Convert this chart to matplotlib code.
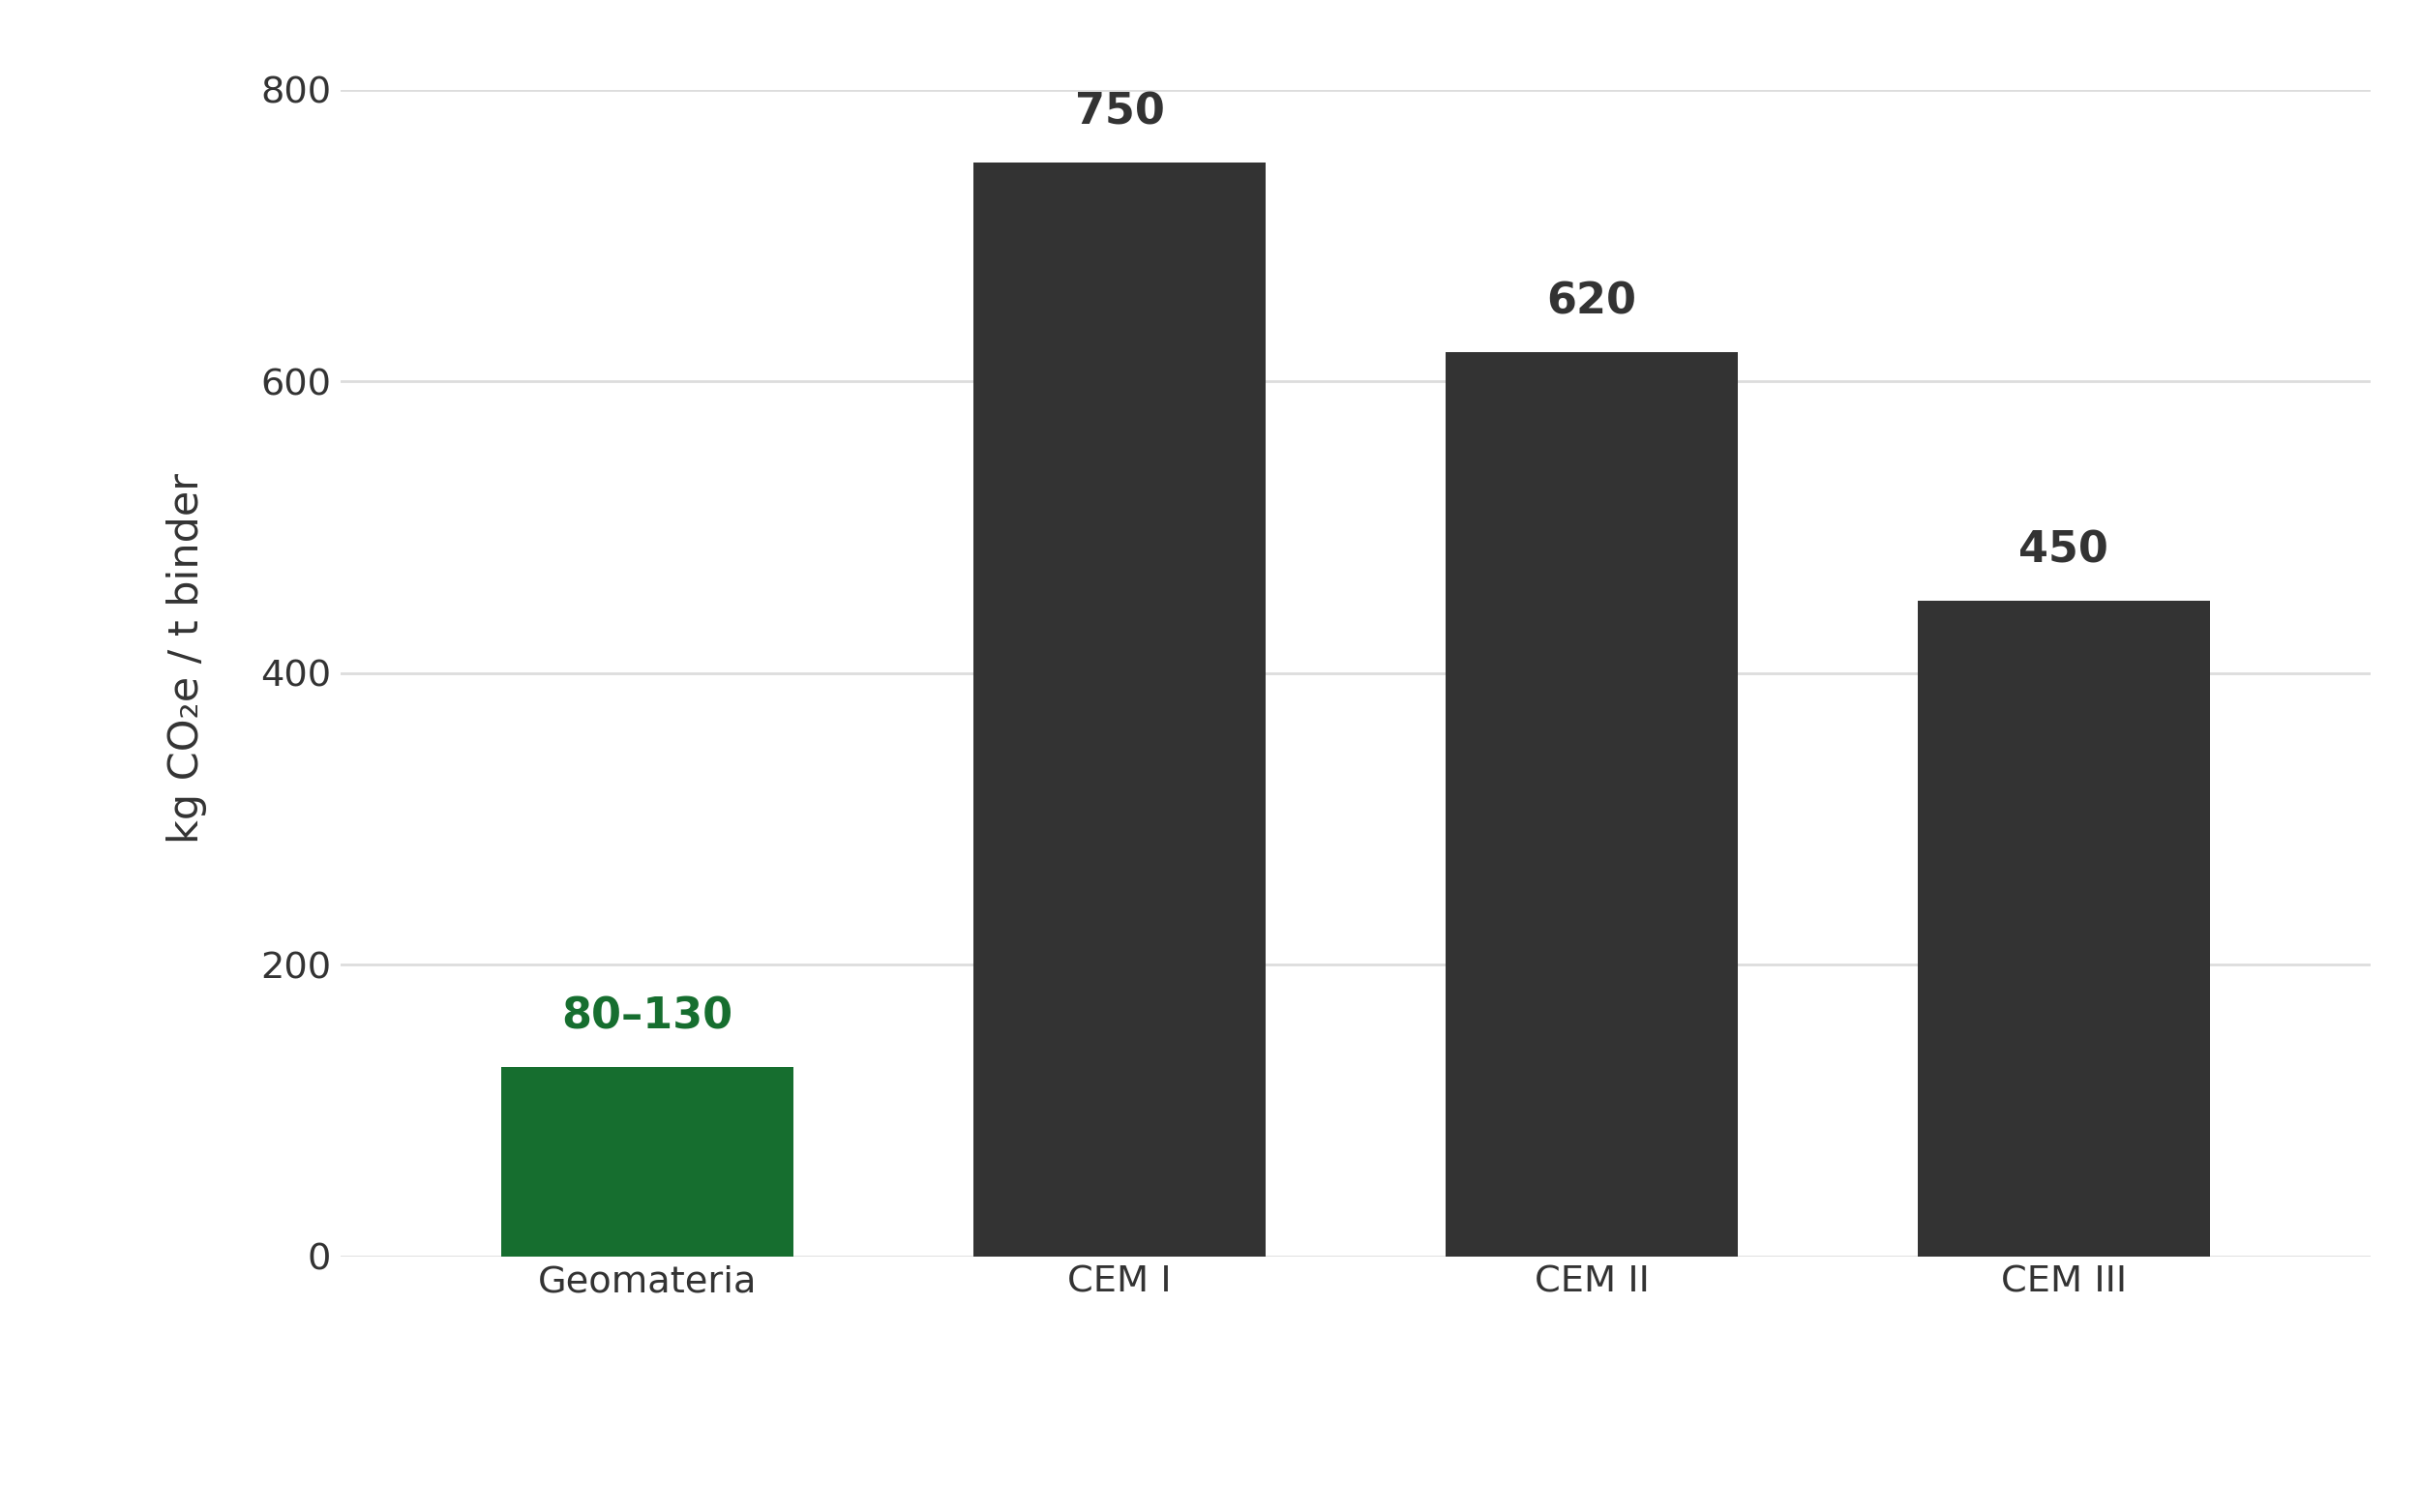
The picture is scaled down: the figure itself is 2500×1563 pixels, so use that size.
import matplotlib.pyplot as plt

# data
categories = ["Geomateria", "CEM I", "CEM II", "CEM III"]
values = [130, 750, 620, 450]
labels = ["80\u2013130", "750", "620", "450"]
bar_colors = ["#166e2f", "#333333", "#333333", "#333333"]
yticks = [0, 200, 400, 600, 800]

text_color = "#333333"

fig = plt.figure(figsize=(12.5, 7.815), dpi=200)
ax = fig.add_axes([0.1408, 0.169, 0.8392, 0.7715])

x = range(len(categories))
bars = ax.bar(x, values, width=0.62, color=bar_colors, zorder=2)

# value labels above bars
for b, lab, c in zip(bars, labels, bar_colors):
    ax.annotate(lab, (b.get_x() + b.get_width() / 2, b.get_height()),
                xytext=(0, 11), textcoords="offset points",
                ha="center", va="bottom", fontsize=16, fontweight="bold",
                color=c)

ax.set_xlim(-0.65, 3.65)
ax.set_ylim(0, 800)
ax.set_yticks(yticks)
ax.set_xticks(list(x))
ax.set_xticklabels(categories)

ax.grid(axis="y", color="#dddddd", linewidth=1.0, zorder=0)
ax.set_axisbelow(True)
for s in ax.spines.values():
    s.set_visible(False)
ax.tick_params(length=0, labelsize=13.8, colors=text_color)
ax.tick_params(axis="x", pad=3)
ax.tick_params(axis="y", pad=3.5)

ax.set_ylabel("kg CO\u2082e / t binder", fontsize=15.5, color=text_color)
ax.yaxis.set_label_coords(-0.066, 0.513)

fig.savefig("out.png", dpi=200)
